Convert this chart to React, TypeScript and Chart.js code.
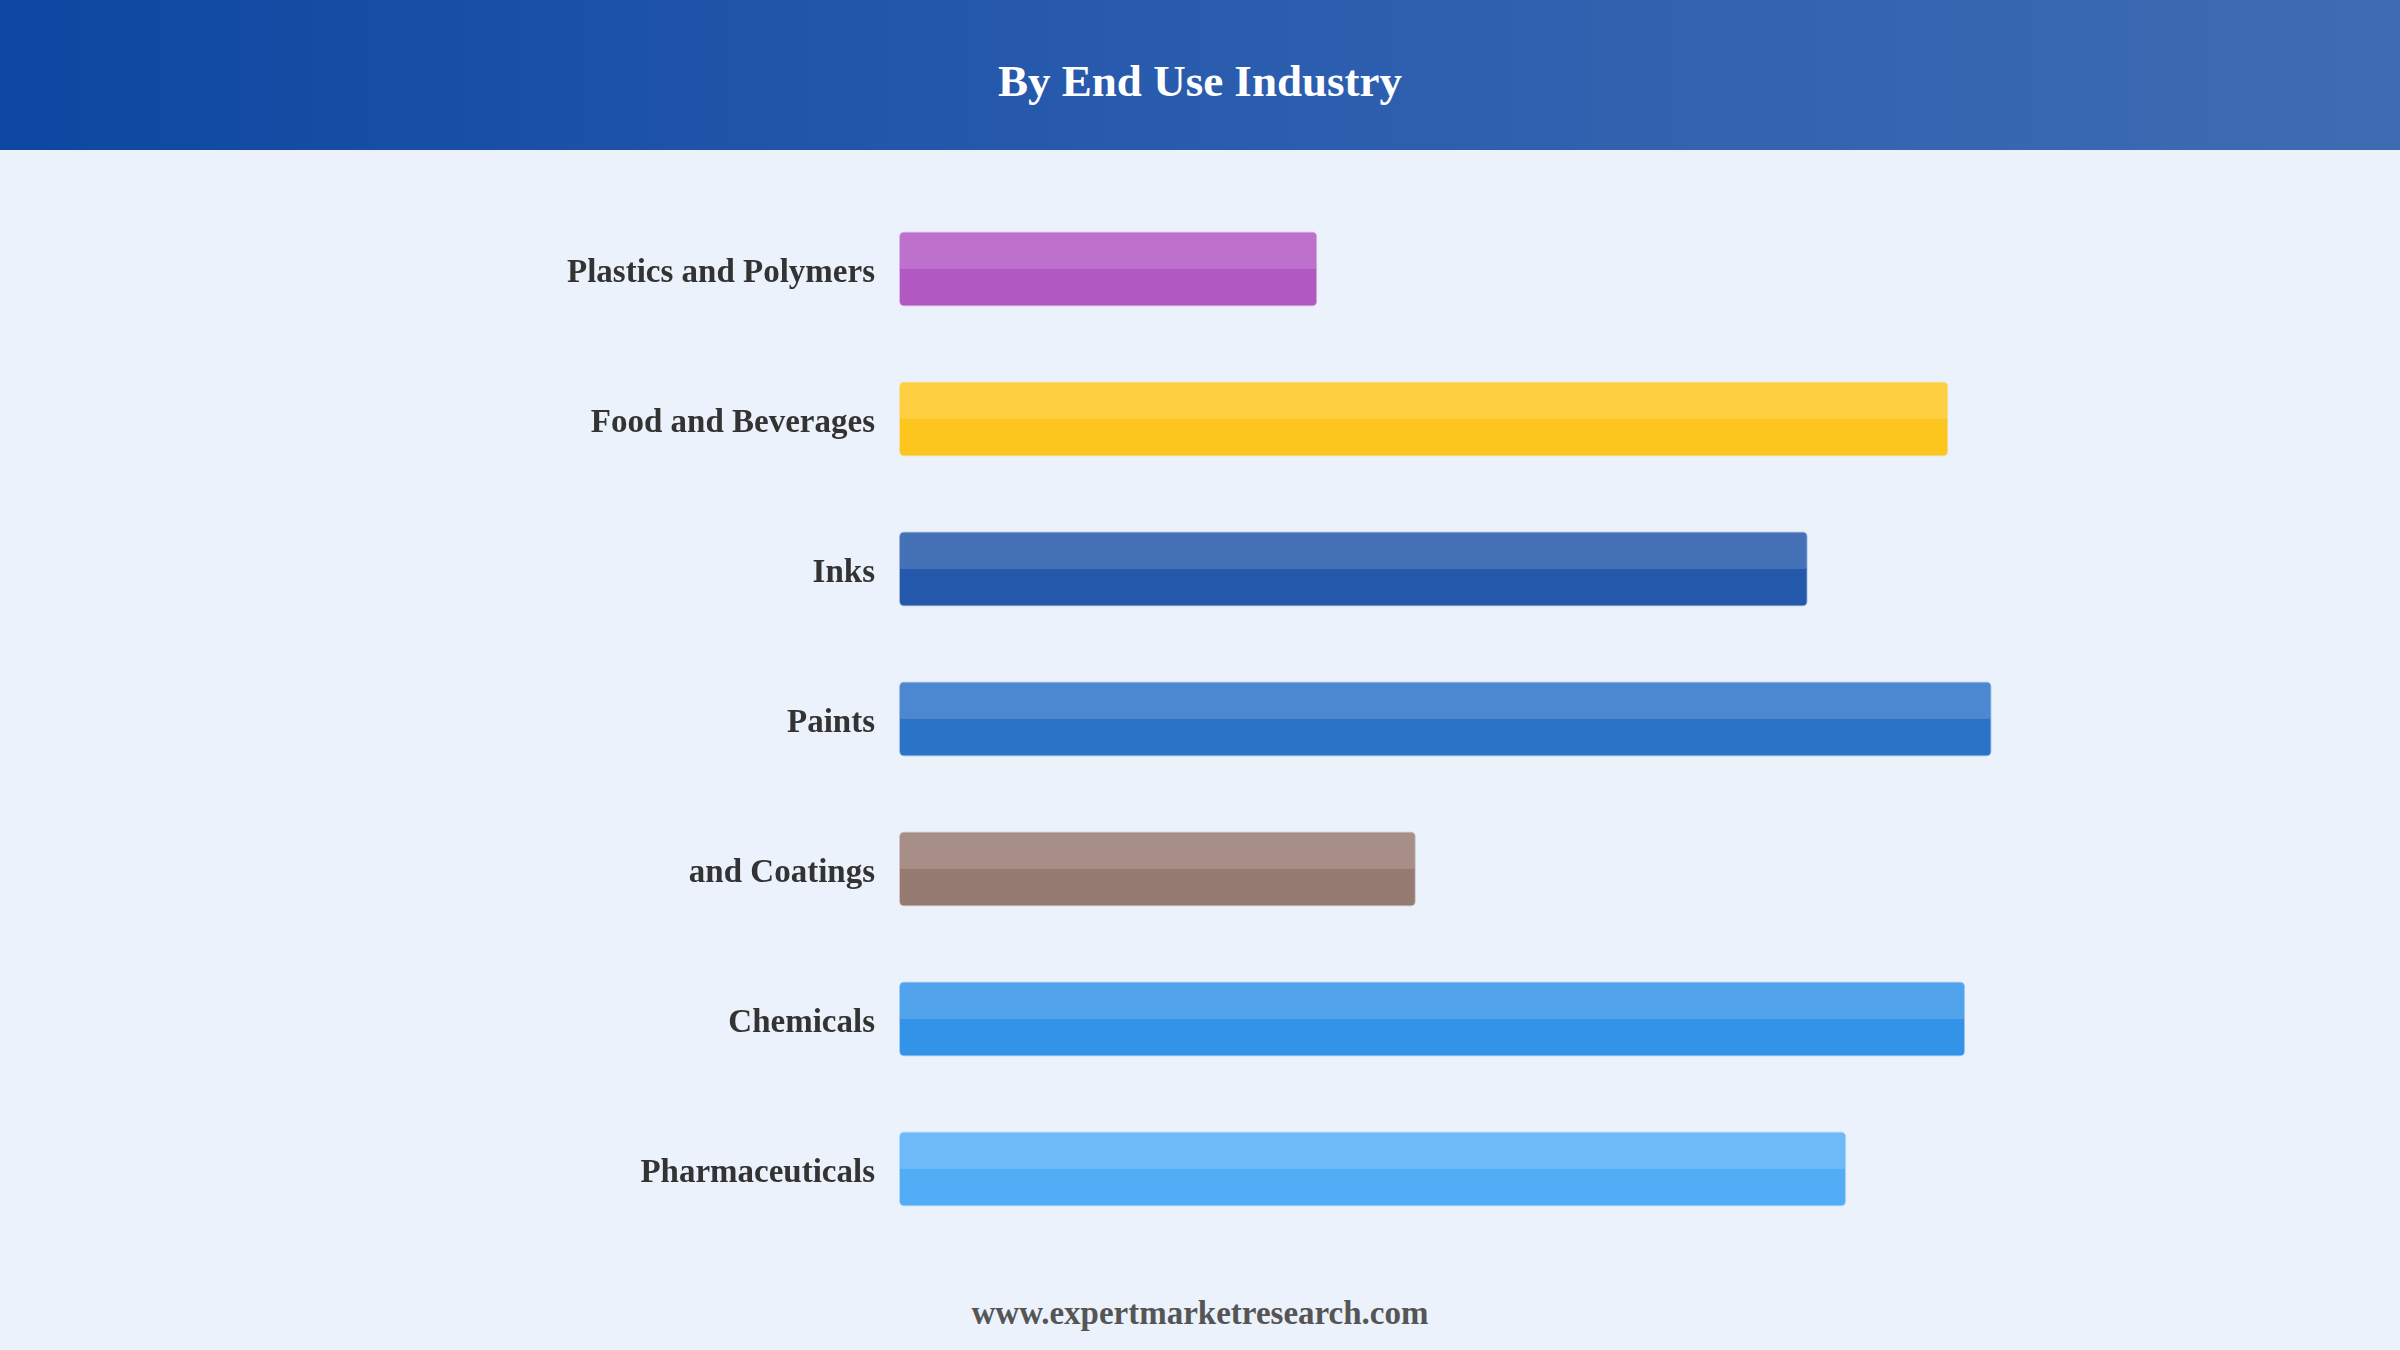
import React, { useEffect, useRef } from "react";
import { Chart, registerables } from "chart.js";

Chart.register(...registerables);

const TITLE = "By End Use Industry";
const FOOTER = "www.expertmarketresearch.com";

const categories = [
  "Plastics and Polymers",
  "Food and Beverages",
  "Inks",
  "Paints",
  "and Coatings",
  "Chemicals",
  "Pharmaceuticals",
];

const values = [34.8, 87.3, 75.6, 90.9, 43.0, 88.7, 78.8];

const barColors = [
  "171,71,188",
  "255,193,7",
  "13,71,161",
  "21,101,192",
  "141,110,99",
  "30,136,229",
  "66,165,245",
];

const X_MAX = 100;

const highlightPlugin = {
  id: "topHighlight",
  afterDatasetsDraw(chart: any) {
    const ctx = chart.ctx;
    const meta = chart.getDatasetMeta(0);
    ctx.save();
    meta.data.forEach((bar: any) => {
      const p = bar.getProps(["x", "y", "base", "height"], true);
      const left = Math.min(p.base, p.x) + 1;
      const right = Math.max(p.base, p.x) - 1;
      const top = p.y - p.height / 2 + 1;
      const h = p.height / 2 - 1;
      ctx.fillStyle = "rgba(255,255,255,0.15)";
      ctx.beginPath();
      if ((ctx as any).roundRect) {
        (ctx as any).roundRect(left, top, right - left, h, [4, 4, 2, 2]);
      } else {
        ctx.rect(left, top, right - left, h);
      }
      ctx.fill();
    });
    ctx.restore();
  },
};

export default function App() {
  const canvasRef = useRef<HTMLCanvasElement | null>(null);

  useEffect(() => {
    if (!canvasRef.current) return;
    const chart = new Chart(canvasRef.current, {
      type: "bar",
      data: {
        labels: categories,
        datasets: [
          {
            data: values,
            backgroundColor: barColors.map((c) => `rgba(${c},0.9)`),
            borderColor: barColors.map((c) => `rgba(${c},0.35)`),
            borderWidth: 1,
            borderSkipped: false,
            borderRadius: 5,
            barPercentage: 0.5,
            categoryPercentage: 1.0,
          },
        ],
      },
      options: {
        indexAxis: "y",
        animation: false,
        responsive: true,
        maintainAspectRatio: false,
        layout: { padding: { top: 44, bottom: 36, right: 299, left: 0 } },
        plugins: {
          legend: { display: false },
          tooltip: { enabled: false },
          title: { display: false },
        },
        scales: {
          x: {
            display: false,
            min: 0,
            max: X_MAX,
          },
          y: {
            afterFit: (scale: any) => {
              scale.width = 899;
              scale.paddingTop = 0;
              scale.paddingBottom = 0;
            },
            grid: { display: false, drawTicks: false },
            border: { display: false },
            ticks: {
              padding: 24,
              labelOffset: 4,
              color: "#333333",
              font: { family: '"Liberation Serif", "Times New Roman", serif', size: 33, weight: "bold" },
            },
          },
        },
      },
      plugins: [highlightPlugin],
    } as any);
    return () => chart.destroy();
  }, []);

  return (
    <div
      style={{
        position: "fixed",
        left: 0,
        top: 0,
        width: 2400,
        height: 1350,
        background: "#EBF2FC",
        overflow: "hidden",
        fontFamily: '"Liberation Serif", "Times New Roman", serif',
      }}
    >
      <div
        style={{
          position: "absolute",
          left: 0,
          top: 0,
          width: 2400,
          height: 150,
          background: "linear-gradient(90deg, #0d47a1 0%, #2a5cae 50%, #3e6cb3 100%)",
        }}
      >
        <div
          style={{
            position: "absolute",
            left: 0,
            width: 2400,
            top: 59,
            lineHeight: "45px",
            fontSize: 45,
            fontWeight: "bold",
            color: "#ffffff",
            textAlign: "center",
          }}
        >
          {TITLE}
        </div>
      </div>
      <div style={{ position: "absolute", left: 0, top: 150, width: 2400, height: 1130 }}>
        <canvas ref={canvasRef} />
      </div>
      <div
        style={{
          position: "absolute",
          left: 0,
          width: 2400,
          top: 1297,
          lineHeight: "33px",
          fontSize: 33,
          fontWeight: "bold",
          color: "#555555",
          textAlign: "center",
        }}
      >
        {FOOTER}
      </div>
    </div>
  );
}
